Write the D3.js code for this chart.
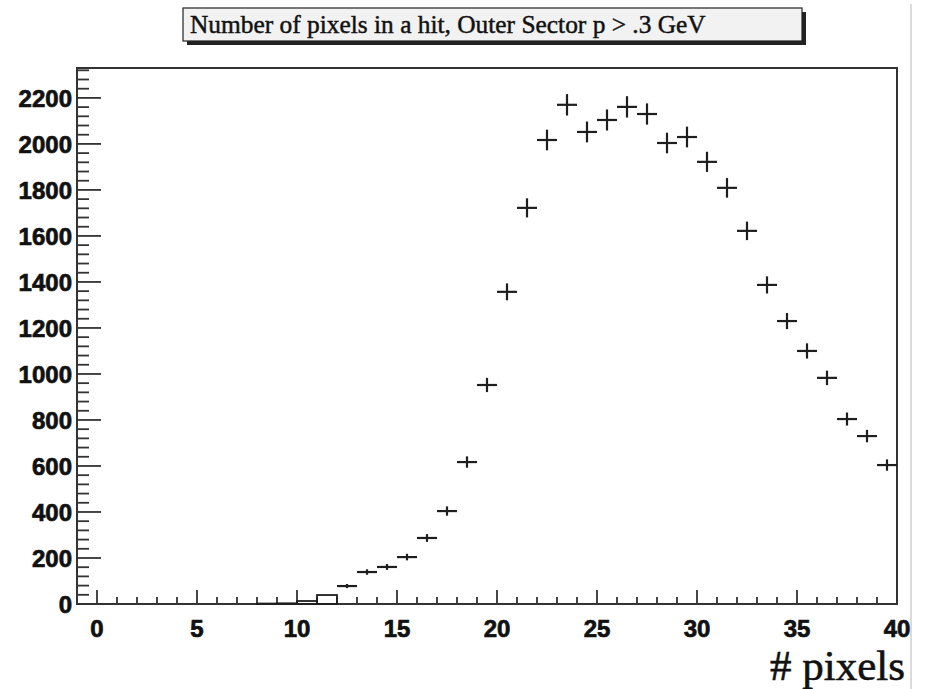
<!DOCTYPE html>
<html>
<head>
<meta charset="utf-8">
<script src="https://d3js.org/d3.v7.min.js"></script>
<style>
  html, body { margin: 0; padding: 0; background: #ffffff; }
  svg { display: block; }
</style>
</head>
<body>
<svg id="chart" width="927" height="689"></svg>
<script>
// ---- data ----
const title = "Number of pixels in a hit, Outer Sector p > .3 GeV";
const xTitle = "# pixels";
// low-count bins drawn as histogram outlines (lower edge of bin)
const lowBins = [8, 9, 10, 11];
const lowCounts = [2, 3, 13, 39];
// bins drawn as error crosses (bin centres)
const binCenters = [12.5, 13.5, 14.5, 15.5, 16.5, 17.5, 18.5, 19.5, 20.5, 21.5,
  22.5, 23.5, 24.5, 25.5, 26.5, 27.5, 28.5, 29.5, 30.5, 31.5,
  32.5, 33.5, 34.5, 35.5, 36.5, 37.5, 38.5, 39.5];
const counts = [78, 139, 161, 204, 287, 404, 617, 952, 1357, 1722,
  2017, 2170, 2052, 2104, 2161, 2130, 2004, 2030, 1922, 1809,
  1622, 1387, 1230, 1100, 983, 804, 730, 604];
const xTickLabels = [0, 5, 10, 15, 20, 25, 30, 35, 40];
const yTickLabels = [0, 200, 400, 600, 800, 1000, 1200, 1400, 1600, 1800, 2000, 2200];

// ---- layout ----
const svg = d3.select("#chart");
const L = 77, R = 897, T = 68, B = 604;
const x = d3.scaleLinear().domain([-1, 40]).range([L, R]);
const y = d3.scaleLinear().domain([0, 2330]).range([B, T]);
const ink = "#1e1e1e";

// canvas edge line at right
svg.append("line").attr("x1", 911).attr("x2", 911).attr("y1", 4).attr("y2", 689)
  .attr("stroke", "#cfcfcf").attr("stroke-width", 1.5);

// ---- title box ----
const tb = { x: 183, y: 8, w: 619, h: 33 };
svg.append("rect").attr("x", tb.x + 4).attr("y", tb.y + 4).attr("width", tb.w).attr("height", tb.h)
  .attr("fill", "#222");
svg.append("rect").attr("x", tb.x).attr("y", tb.y).attr("width", tb.w).attr("height", tb.h)
  .attr("fill", "#f2f2f2").attr("stroke", "#222").attr("stroke-width", 1.2);
const tt = svg.append("text").attr("x", tb.x + 7).attr("y", tb.y + 25)
  .attr("font-family", "'Liberation Serif', 'DejaVu Serif', serif")
  .attr("font-size", 22).attr("fill", "#111")
  .attr("stroke", "#111").attr("stroke-width", 0.45).text(title);
const tl = tt.node().getComputedTextLength();
if (tl > 0) tt.attr("font-size", 22 * 516 / tl);

// ---- frame ----
svg.append("rect").attr("x", L).attr("y", T).attr("width", R - L).attr("height", B - T)
  .attr("fill", "none").attr("stroke", "#333").attr("stroke-width", 2);

// ---- y axis ticks ----
const yMinor = d3.range(0, 2330, 40);
svg.append("g").selectAll("line").data(yMinor).join("line")
  .attr("x1", L).attr("x2", d => L + (d % 200 === 0 ? 24 : 12))
  .attr("y1", d => y(d)).attr("y2", d => y(d))
  .attr("stroke", "#333").attr("stroke-width", 1.8);
svg.append("g").selectAll("text").data(yTickLabels).join("text")
  .attr("x", 72).attr("y", d => y(d)).attr("dy", "0.36em")
  .attr("text-anchor", "end")
  .attr("font-family", "'Liberation Sans', Arial, sans-serif")
  .attr("font-weight", "bold").attr("font-size", 24).attr("fill", "#111")
  .attr("stroke", "#111").attr("stroke-width", 0.7)
  .text(d => d);

// ---- x axis ticks ----
const xMinor = d3.range(0, 40, 1);
svg.append("g").selectAll("line").data(xMinor).join("line")
  .attr("x1", d => x(d)).attr("x2", d => x(d))
  .attr("y1", B).attr("y2", d => B - (d % 5 === 0 ? 14 : 7))
  .attr("stroke", "#333").attr("stroke-width", 1.8);
svg.append("g").selectAll("text").data(xTickLabels).join("text")
  .attr("x", d => x(d)).attr("y", 637)
  .attr("text-anchor", "middle")
  .attr("font-family", "'Liberation Sans', Arial, sans-serif")
  .attr("font-weight", "bold").attr("font-size", 24).attr("fill", "#111")
  .attr("stroke", "#111").attr("stroke-width", 0.7)
  .text(d => d);

// x axis title
svg.append("text").attr("x", 905).attr("y", 680).attr("text-anchor", "end")
  .attr("font-family", "'Liberation Serif', 'DejaVu Serif', serif")
  .attr("font-size", 43).attr("fill", "#111")
  .attr("stroke", "#111").attr("stroke-width", 0.6).text(xTitle);

// ---- low bins (histogram outline) ----
svg.append("g").selectAll("rect").data(lowBins).join("rect")
  .attr("x", d => x(d)).attr("width", d => x(d + 1) - x(d))
  .attr("y", (d, i) => y(lowCounts[i])).attr("height", (d, i) => B - y(lowCounts[i]))
  .attr("fill", "none").attr("stroke", ink).attr("stroke-width", 1.8);

// ---- error crosses ----
const pts = binCenters.map((c, i) => ({ c, v: counts[i] }));
const g = svg.append("g").attr("stroke", ink).attr("stroke-width", 2.2);
g.selectAll("line.h").data(pts).join("line").attr("class", "h")
  .attr("x1", d => x(d.c - 0.5)).attr("x2", d => x(d.c + 0.5))
  .attr("y1", d => y(d.v)).attr("y2", d => y(d.v));
g.selectAll("line.v").data(pts).join("line").attr("class", "v")
  .attr("x1", d => x(d.c)).attr("x2", d => x(d.c))
  .attr("y1", d => y(d.v - Math.sqrt(d.v))).attr("y2", d => y(d.v + Math.sqrt(d.v)));
</script>
</body>
</html>
